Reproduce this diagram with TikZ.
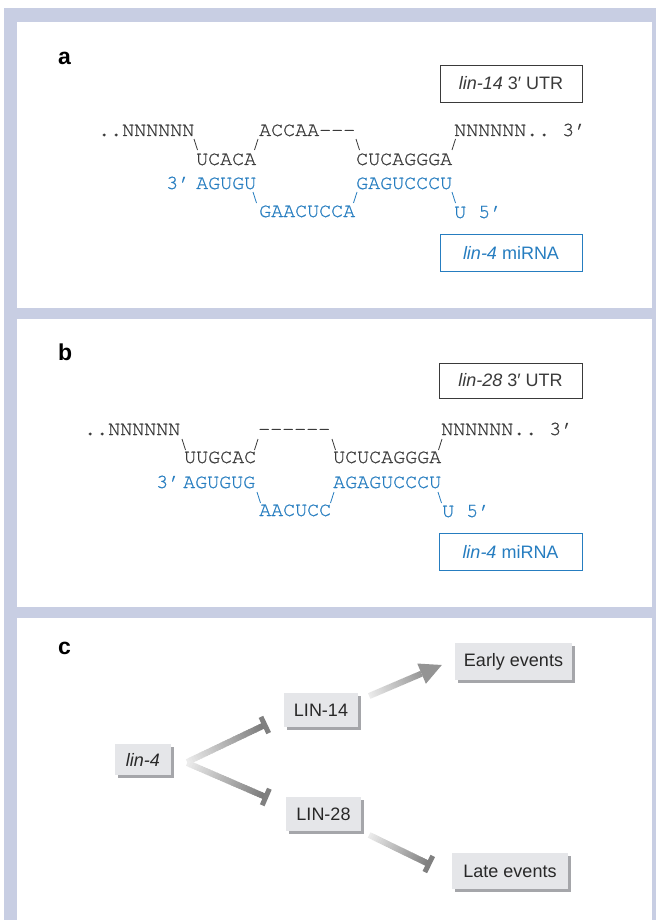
\documentclass[tikz,border=0pt]{standalone}
\usepackage{fontspec}
\setmainfont{Liberation Sans}
\newfontfamily\monof[Extension=.otf, FakeBold=0.6]{texgyrecursor-regular}
\usetikzlibrary{calc}
\definecolor{lav}{RGB}{200,206,227}
\definecolor{txtgray}{RGB}{58,58,58}
\definecolor{txtdark}{RGB}{40,40,40}
\definecolor{seqblue}{RGB}{38,125,192}
\definecolor{boxfill}{RGB}{229,230,233}
\definecolor{shadowgray}{RGB}{165,166,170}
\tikzset{
  seq/.style={anchor=base west, inner sep=0pt, font=\monof\fontsize{20}{24}\selectfont, text=txtgray},
  bseq/.style={seq, text=seqblue},
  sl/.style={draw=txtgray, line width=0.8pt},
  bsl/.style={draw=seqblue, line width=0.8pt},
  utrbox/.style={draw=txtgray, line width=0.9pt, minimum width=142pt, minimum height=37pt, inner sep=0pt, font=\fontsize{18}{22}\selectfont, text=txtgray},
  mirbox/.style={utrbox, draw=seqblue, text=seqblue},
  plabel/.style={anchor=base west, inner sep=0pt, font=\bfseries\fontsize{23}{26}\selectfont, text=black},
  gbox/.style={fill=boxfill, inner sep=0pt, font=\fontsize{18}{22}\selectfont, text=txtdark,
    preaction={fill=shadowgray, transform canvas={shift={(3pt,-3pt)}}}},
  tbar/.style={line width=5pt, draw=black!50},
}
\newcommand\gline[4]{%
  \foreach \k in {0,...,29}{%
    \pgfmathsetmacro\ta{\k/30}%
    \pgfmathsetmacro\tb{min((\k+1.5)/30,1)}%
    \pgfmathsetmacro\cc{#3+(#4-#3)*\k/29}%
    \draw[line width=6pt, color=black!\cc] ($(#1)!\ta!(#2)$) -- ($(#1)!\tb!(#2)$);
  }}
\begin{document}
\begin{tikzpicture}[x=1pt,y=-1pt]
\useasboundingbox (0,0) rectangle (656,920);
\fill[white] (0,0) rectangle (656,920);
\fill[lav] (4,8) rectangle (656,920);
\fill[white] (17,22) rectangle (652,308);
\fill[white] (17,319) rectangle (652,607);
\fill[white] (17,618) rectangle (652,920);

% ---------------- panel a
\node[plabel] (la) at (58,65) {a};
\node[utrbox] (utr14) at (511,83.5) {\textit{lin-14} 3′ UTR};
\node[mirbox] (mira) at (511,252.5) {\textit{lin-4} miRNA};

\node[seq] (a1) at (98,136) {..NNNNNN};
\node[seq] (a2) at (259,136) {ACCAA---};
\node[seq] (a3) at (454,136) {NNNNNN..~3’};
\node[seq] (a4) at (196,165) {UCACA};
\node[seq] (a5) at (356,165) {CUCAGGGA};
\node[bseq] (a6) at (166,189) {3’};
\node[bseq] (a7) at (196,189) {AGUGU};
\node[bseq] (a8) at (356,189) {GAGUCCCU};
\node[bseq] (a9) at (259,217) {GAACUCCA};
\node[bseq] (a10) at (454,218) {U~5’};

\draw[sl] (194,139) -- (197.5,150);
\draw[sl] (258,139) -- (254.5,150);
\draw[sl] (356,139) -- (359.5,150);
\draw[sl] (455.5,139) -- (452,150);
\draw[bsl] (253,192) -- (256.5,203);
\draw[bsl] (357,192) -- (353.5,203);
\draw[bsl] (452,192) -- (455.5,203);

% ---------------- panel b
\node[plabel] (lb) at (58,360) {b};
\node[utrbox, minimum height=35pt, minimum width=143pt] (utr28) at (510.5,380.5) {\textit{lin-28} 3′ UTR};
\node[mirbox, minimum width=143pt] (mirb) at (510.5,551.5) {\textit{lin-4} miRNA};

\node[seq] (b1) at (84,435) {..NNNNNN};
\node[seq] (b2) at (258,435) {------};
\node[seq] (b3) at (441,435) {NNNNNN..~3’};
\node[seq] (b4) at (184,463) {UUGCAC};
\node[seq] (b5) at (333,463) {UCUCAGGGA};
\node[bseq] (b6) at (156,488) {3’};
\node[bseq] (b7) at (183,488) {AGUGUG};
\node[bseq] (b8) at (333,488) {AGAGUCCCU};
\node[bseq] (b9) at (259,516) {AACUCC};
\node[bseq] (b10) at (442,517) {U~5’};

\draw[sl] (182,439) -- (185.5,450);
\draw[sl] (258,439) -- (254.5,450);
\draw[sl] (332,439) -- (335.5,450);
\draw[sl] (442,439) -- (438.5,450);
\draw[bsl] (257,492) -- (260.5,503);
\draw[bsl] (334,492) -- (330.5,503);
\draw[bsl] (438,492) -- (441.5,503);

% ---------------- panel c
\node[plabel] (lc) at (58,654) {c};
\node[gbox, minimum width=56pt, minimum height=31pt] (lin4) at (143,759.5) {\textit{lin-4}};
\node[gbox, minimum width=74pt, minimum height=34pt] (lin14) at (321,710) {LIN-14};
\node[gbox, minimum width=75pt, minimum height=34pt] (lin28) at (323.5,814) {LIN-28};
\node[gbox, minimum width=117pt, minimum height=37pt] (early) at (513.5,661.5) {Early events};
\node[gbox, minimum width=116pt, minimum height=36pt] (late) at (510,871) {Late events};

\coordinate (s1) at ($(lin4.east)+(16,2.5)$);
\coordinate (e1) at ($(lin14.west)+(-19,15)$);
\coordinate (s2) at ($(lin4.east)+(16,3.5)$);
\coordinate (e2) at ($(lin28.west)+(-20,-17)$);
\coordinate (s3) at ($(lin14.east)+(11,-14)$);
\coordinate (e3) at ($(early.west)+(-13,3.5)$);
\coordinate (s4) at ($(lin28.east)+(8,21)$);
\coordinate (e4) at ($(late.west)+(-23,-7)$);
\coordinate (b3) at ($(e3)!22pt!(s3)$);

\gline{s1}{e1}{8}{52}
\gline{s2}{e2}{8}{52}
\gline{s3}{b3}{8}{40}
\gline{s4}{e4}{8}{50}

\draw[tbar] ($(e1)!9pt!90:(s1)$) -- ($(e1)!9pt!-90:(s1)$);
\draw[tbar] ($(e2)!9pt!90:(s2)$) -- ($(e2)!9pt!-90:(s2)$);
\draw[tbar] ($(e4)!9pt!90:(s4)$) -- ($(e4)!9pt!-90:(s4)$);
\fill[black!42] (e3) -- ($(b3)!11pt!90:(e3)$) -- ($(b3)!11pt!-90:(e3)$) -- cycle;
\end{tikzpicture}
\end{document}
